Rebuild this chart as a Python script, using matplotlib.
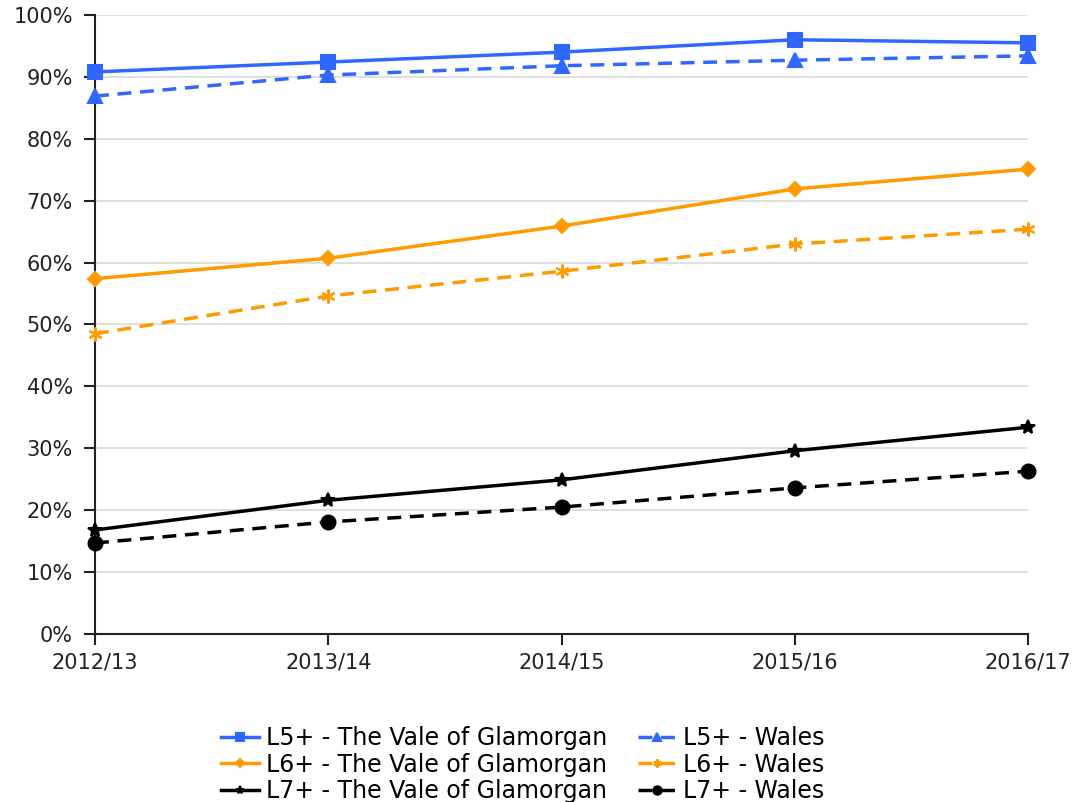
import numpy as np
import matplotlib
matplotlib.use("Agg")
import matplotlib.pyplot as plt
from matplotlib.ticker import PercentFormatter

years = ["2012/13", "2013/14", "2014/15", "2015/16", "2016/17"]

# percentages
l5_vale = [90.8, 92.4, 94.0, 96.0, 95.5]
l5_wales = [86.9, 90.3, 91.8, 92.7, 93.4]
l6_vale = [57.4, 60.7, 65.9, 71.9, 75.1]
l6_wales = [48.5, 54.6, 58.6, 63.0, 65.4]
l7_vale = [16.8, 21.6, 24.9, 29.6, 33.4]
l7_wales = [14.7, 18.1, 20.5, 23.6, 26.3]

blue = "#3068ff"
orange = "#ff9a00"
black = "#000000"

plt.rcParams['font.family'] = ['DejaVu Sans']

fig = plt.figure(figsize=(10.76, 8.02), dpi=100)
ax = fig.add_axes([0.0883, 0.2095, 0.8671, 0.7718])

x = np.arange(len(years))

# series: values, colour, linestyle, marker, marker size, label
series = [
    (l5_vale, blue, "-", "s", 10, "L5+ - The Vale of Glamorgan"),
    (l5_wales, blue, "--", "^", 10, "L5+ - Wales"),
    (l6_vale, orange, "-", "D", 7, "L6+ - The Vale of Glamorgan"),
    (l6_wales, orange, "--", (6, 2, 0), 10, "L6+ - Wales"),
    (l7_vale, black, "-", "*", 10, "L7+ - The Vale of Glamorgan"),
    (l7_wales, black, "--", "o", 10, "L7+ - Wales"),
]

handles = []
for vals, col, ls, mk, ms, lab in series:
    ln, = ax.plot(x, vals, color=col, linestyle=ls, linewidth=2.5,
                  marker=mk, markersize=ms, markeredgecolor=col,
                  markeredgewidth=1.5, label=lab,
                  dashes=(4, 2.5) if ls == "--" else (None, None),
                  clip_on=False, zorder=3)
    handles.append(ln)

ax.set_xlim(0, len(years) - 1)
ax.set_ylim(0, 100)
ax.set_yticks(np.arange(0, 101, 10))
ax.yaxis.set_major_formatter(PercentFormatter(decimals=0))
ax.set_xticks(x)
ax.set_xticklabels(years)

ax.grid(axis="y", color="#d9d9d9", linewidth=1.2)
ax.set_axisbelow(True)
for s in ["top", "right"]:
    ax.spines[s].set_visible(False)
for s in ["left", "bottom"]:
    ax.spines[s].set_linewidth(1.5)
    ax.spines[s].set_color("#222222")

ax.tick_params(axis="both", direction="out", length=8, width=1.5,
               labelsize=15, colors="#222222")
ax.tick_params(axis="y", pad=8)
ax.tick_params(axis="x", pad=5)

# order legend row-wise: Vale in left column, Wales in right column
order = [0, 2, 4, 1, 3, 5]
leg = fig.legend([handles[i] for i in order], [series[i][5] for i in order],
                 loc="upper center", bbox_to_anchor=(0.486, 0.095), ncol=2,
                 frameon=False, fontsize=17, handlelength=1.6,
                 handletextpad=0.3, columnspacing=1.3, labelspacing=0.12,
                 markerscale=0.6, borderaxespad=0, borderpad=0)

fig.savefig("out.png", dpi=100)
